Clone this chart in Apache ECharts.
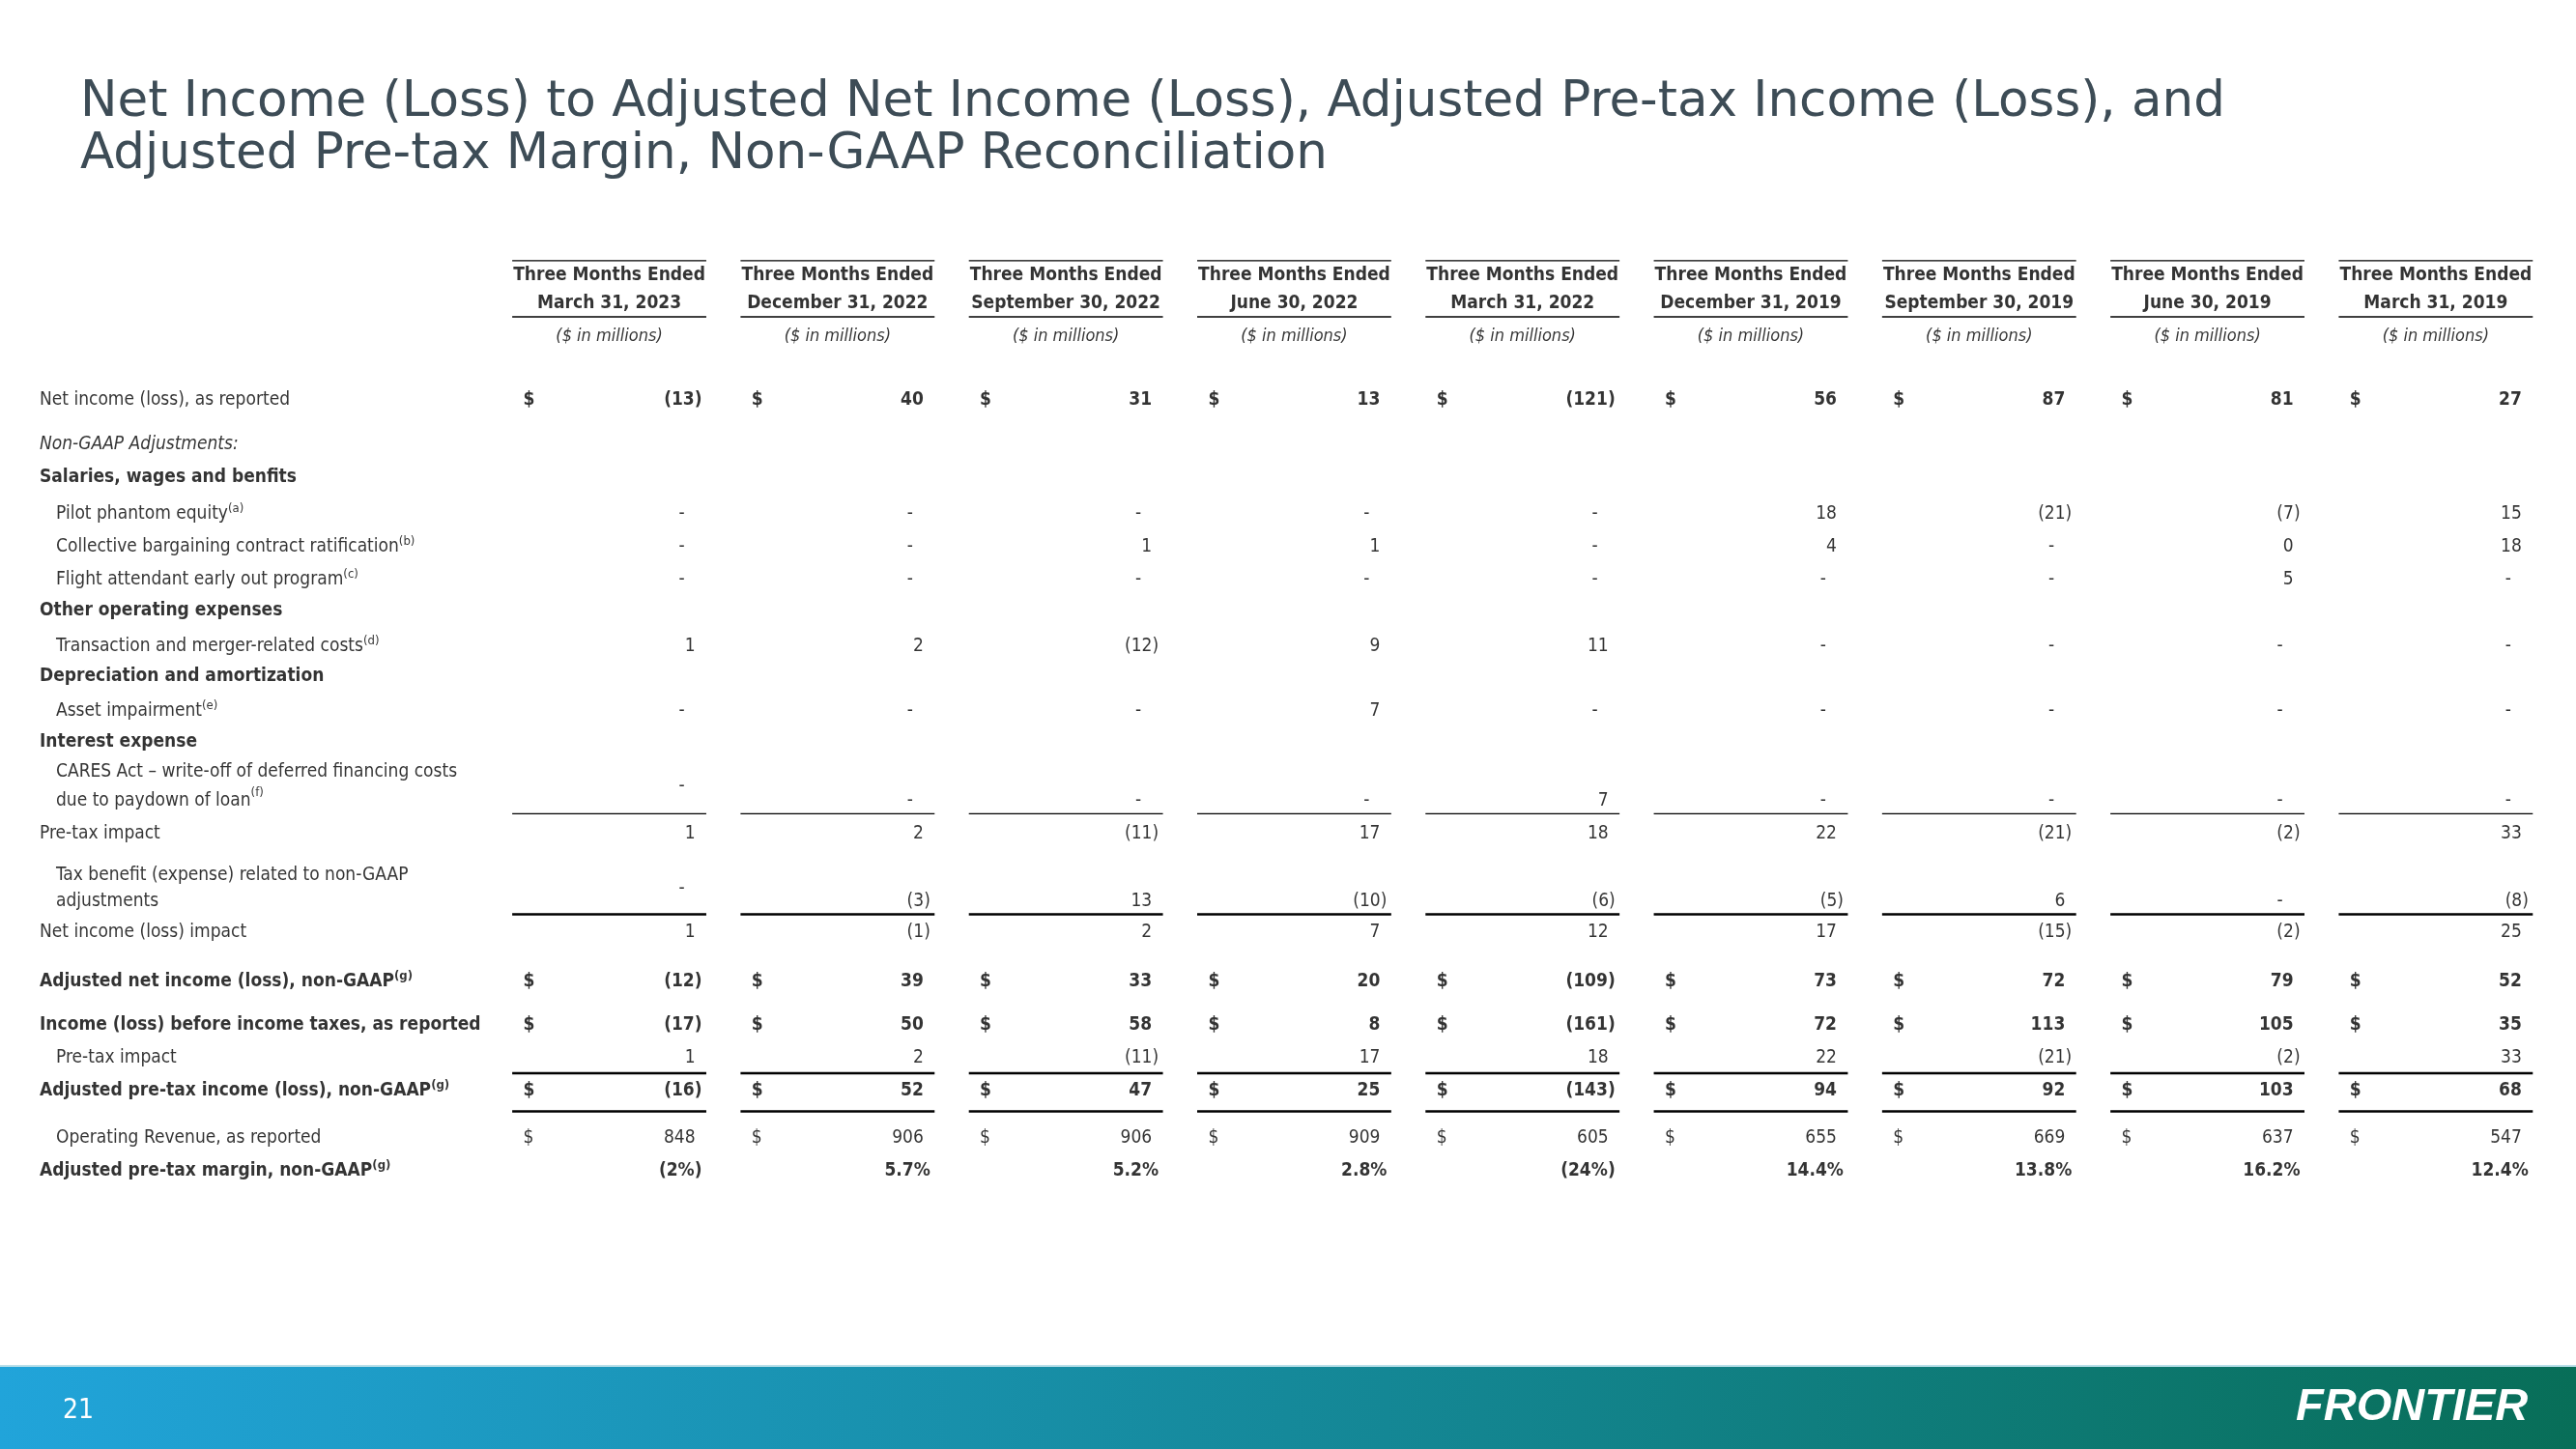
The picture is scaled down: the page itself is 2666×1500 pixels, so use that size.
<!DOCTYPE html>
<html>
<head>
<meta charset="utf-8">
<script src="https://cdn.jsdelivr.net/npm/echarts@6/dist/echarts.min.js"></script>
<style>
html, body { margin: 0; padding: 0; background: #fff; }
#main { width: 2666px; height: 1500px; }
</style>
</head>
<body>
<div id="main"></div>
<script>
// periods (columns)
var periods = ['March 31, 2023', 'December 31, 2022', 'September 30, 2022', 'June 30, 2022',
  'March 31, 2022', 'December 31, 2019', 'September 30, 2019', 'June 30, 2019', 'March 31, 2019'];

// $ in millions, null = "-"
var netIncomeReported = [-13, 40, 31, 13, -121, 56, 87, 81, 27];
var pilotPhantomEquity = [null, null, null, null, null, 18, -21, -7, 15];
var collectiveBargaining = [null, null, 1, 1, null, 4, null, 0, 18];
var flightAttendantEarlyOut = [null, null, null, null, null, null, null, 5, null];
var transactionMergerCosts = [1, 2, -12, 9, 11, null, null, null, null];
var assetImpairment = [null, null, null, 7, null, null, null, null, null];
var caresActWriteOff = [null, null, null, null, 7, null, null, null, null];
var pretaxImpact = [1, 2, -11, 17, 18, 22, -21, -2, 33];
var taxBenefit = [null, -3, 13, -10, -6, -5, 6, null, -8];
var netIncomeImpact = [1, -1, 2, 7, 12, 17, -15, -2, 25];
var adjustedNetIncome = [-12, 39, 33, 20, -109, 73, 72, 79, 52];
var incomeBeforeTaxes = [-17, 50, 58, 8, -161, 72, 113, 105, 35];
var adjustedPretaxIncome = [-16, 52, 47, 25, -143, 94, 92, 103, 68];
var operatingRevenue = [848, 906, 906, 909, 605, 655, 669, 637, 547];
var adjustedPretaxMargin = [-2, 5.7, 5.2, 2.8, -24, 14.4, 13.8, 16.2, 12.4]; // %

var FONT = "'Liberation Sans Narrow', 'DejaVu Sans Condensed', sans-serif";
var FS = 19;

// table rows: text, footnote, row slot, indent, styles
var rows = [
  { text: 'Net income (loss), as reported', y: 0, values: netIncomeReported, dollar: true, boldVal: true },
  { text: 'Non-GAAP Adjustments:', y: 1.35, italic: true },
  { text: 'Salaries, wages and benfits', y: 2.35, bold: true },
  { text: 'Pilot phantom equity', note: '(a)', y: 3.47, indent: true, values: pilotPhantomEquity },
  { text: 'Collective bargaining contract ratification', note: '(b)', y: 4.47, indent: true, values: collectiveBargaining },
  { text: 'Flight attendant early out program', note: '(c)', y: 5.47, indent: true, values: flightAttendantEarlyOut },
  { text: 'Other operating expenses', y: 6.41, bold: true },
  { text: 'Transaction and merger-related costs', note: '(d)', y: 7.5, indent: true, values: transactionMergerCosts },
  { text: 'Depreciation and amortization', y: 8.41, bold: true },
  { text: 'Asset impairment', note: '(e)', y: 9.47, indent: true, values: assetImpairment },
  { text: 'Interest expense', y: 10.41, bold: true },
  { text: 'CARES Act \u2013 write-off of deferred financing costs\ndue to paydown of loan', note: '(f)', y: 11.76, valY: 12.2, lh: 30, indent: true, values: caresActWriteOff },
  { text: 'Pre-tax impact', y: 13.2, values: pretaxImpact },
  { text: 'Tax benefit (expense) related to non-GAAP\nadjustments', y: 14.88, valY: 15.26, lh: 27, indent: true, values: taxBenefit },
  { text: 'Net income (loss) impact', y: 16.2, values: netIncomeImpact },
  { text: 'Adjusted net income (loss), non-GAAP', note: '(g)', y: 17.7, bold: true, values: adjustedNetIncome, dollar: true, boldVal: true },
  { text: 'Income (loss) before income taxes, as reported', y: 19.03, bold: true, values: incomeBeforeTaxes, dollar: true, boldVal: true },
  { text: 'Pre-tax impact', y: 20.03, indent: true, values: pretaxImpact },
  { text: 'Adjusted pre-tax income (loss), non-GAAP', note: '(g)', y: 21.03, bold: true, values: adjustedPretaxIncome, dollar: true, boldVal: true },
  { text: 'Operating Revenue, as reported', y: 22.47, indent: true, values: operatingRevenue, dollar: true },
  { text: 'Adjusted pre-tax margin, non-GAAP', note: '(g)', y: 23.47, bold: true, values: adjustedPretaxMargin, pct: true, boldVal: true }
];

// rules under cells: row slot, line width
var rules = [[-4.24, 1.4], [-2.53, 1.4], [12.6, 1.4], [15.66, 2.4], [20.5, 2.4], [21.66, 2.4]];

function fmt(v) {
  if (v == null) return '-';
  return v < 0 ? '(' + (-v) + ')' : String(v);
}
function fmtPct(v) {
  return v < 0 ? '(' + (-v) + '%)' : v.toFixed(1) + '%';
}

var Y0 = 414, UNIT = 34, YMIN = -5, YMAX = 25;
var gridTop = Y0 + YMIN * UNIT;
var gridBottom = 1500 - (Y0 + YMAX * UNIT);

var series = [];

// row labels
series.push({
  type: 'scatter', xAxisIndex: 0, yAxisIndex: 0, symbolSize: 0, silent: true,
  data: rows.map(function (r) {
    return {
      value: [0, r.y],
      label: {
        formatter: r.text + (r.note ? '{sup|' + r.note + '}' : ''),
        offset: [r.indent ? 58 : 41, 0],
        fontWeight: r.bold ? 'bold' : 'normal',
        fontStyle: r.italic ? 'italic' : 'normal',
        lineHeight: r.lh || 24
      }
    };
  }),
  label: {
    show: true, position: 'inside', align: 'left', color: '#000',
    fontFamily: FONT, fontSize: FS,
    rich: { sup: { fontSize: 13, verticalAlign: 'top', fontFamily: FONT, color: '#000' } }
  }
});

// column headers
series.push({
  type: 'scatter', xAxisIndex: 1, yAxisIndex: 1, symbolSize: 0, silent: true,
  data: periods.map(function (p, i) { return { value: [i, -3.37], name: p }; }),
  label: {
    show: true, position: 'inside', align: 'center', color: '#000',
    fontFamily: FONT, fontSize: FS, fontWeight: 'bold', lineHeight: 29,
    formatter: function (p) { return 'Three Months Ended\n' + p.name; }
  }
});
series.push({
  type: 'scatter', xAxisIndex: 1, yAxisIndex: 1, symbolSize: 0, silent: true,
  data: periods.map(function (p, i) { return [i, -1.94]; }),
  label: {
    show: true, position: 'inside', align: 'center', color: '#000',
    fontFamily: FONT, fontSize: 18, fontStyle: 'italic',
    formatter: '($ in millions)'
  }
});

// values and $ signs
rows.forEach(function (r) {
  if (!r.values) return;
  series.push({
    type: 'scatter', xAxisIndex: 1, yAxisIndex: 1, symbolSize: 0, silent: true,
    data: r.values.map(function (v, i) {
      var y = r.valY != null && !(v == null && i === 0) ? r.valY : r.y;
      var txt = r.pct ? fmtPct(v) : fmt(v);
      var off = r.pct ? 96 : (v == null ? 78 : (v < 0 ? 96 : 89));
      return { value: [i, y], label: { formatter: txt, offset: [off, 0] } };
    }),
    label: {
      show: true, position: 'inside', align: 'right', color: '#000',
      fontFamily: FONT, fontSize: FS, fontWeight: r.boldVal ? 'bold' : 'normal'
    }
  });
  if (r.dollar) {
    series.push({
      type: 'scatter', xAxisIndex: 1, yAxisIndex: 1, symbolSize: 0, silent: true,
      data: r.values.map(function (v, i) { return [i, r.y]; }),
      label: {
        show: true, position: 'inside', align: 'left', offset: [-89, 0], color: '#000',
        fontFamily: FONT, fontSize: FS, fontWeight: r.boldVal ? 'bold' : 'normal',
        formatter: '$'
      }
    });
  }
});

// cell rules
var ruleData = [];
rules.forEach(function (ru) {
  periods.forEach(function (p, i) { ruleData.push([i, ru[0], ru[1]]); });
});
series.push({
  type: 'custom', xAxisIndex: 1, yAxisIndex: 1, silent: true,
  data: ruleData,
  renderItem: function (params, api) {
    var c = api.coord([api.value(0), api.value(1)]);
    var half = api.size([1, 0])[0] * 0.425;
    return {
      type: 'line',
      shape: { x1: c[0] - half, y1: c[1], x2: c[0] + half, y2: c[1] },
      style: { stroke: '#000', lineWidth: api.value(2) }
    };
  }
});

var chart = echarts.init(document.getElementById('main'));
chart.setOption({
  animation: false,
  backgroundColor: '#fff',
  title: {
    text: 'Net Income (Loss) to Adjusted Net Income (Loss), Adjusted Pre-tax Income (Loss), and\nAdjusted Pre-tax Margin, Non-GAAP Reconciliation',
    left: 83, top: 80, padding: 0,
    textStyle: { fontFamily: 'DejaVu Sans', fontSize: 51.5, fontWeight: 'normal', color: '#3d4c56', lineHeight: 54 }
  },
  grid: [
    { left: 0, width: 512, top: gridTop, bottom: gridBottom },
    { left: 512.4, right: 27, top: gridTop, bottom: gridBottom }
  ],
  xAxis: [
    { type: 'value', gridIndex: 0, min: 0, max: 1, show: false },
    { type: 'category', gridIndex: 1, data: periods, show: false }
  ],
  yAxis: [
    { type: 'value', gridIndex: 0, min: YMIN, max: YMAX, inverse: true, show: false },
    { type: 'value', gridIndex: 1, min: YMIN, max: YMAX, inverse: true, show: false }
  ],
  graphic: [
    {
      type: 'rect', left: 0, top: 1415, silent: true,
      shape: { width: 2666, height: 85 },
      style: {
        fill: new echarts.graphic.LinearGradient(0, 0, 1, 0, [
          { offset: 0, color: '#21a4da' },
          { offset: 0.5, color: '#15899a' },
          { offset: 1, color: '#086e58' }
        ])
      }
    },
    {
      type: 'rect', left: 0, top: 1413, silent: true,
      shape: { width: 2666, height: 2 },
      style: { fill: '#b9dfe9' }
    },
    {
      type: 'text', left: 65, top: 1447, silent: true,
      style: { text: '21', fill: '#fff', fontFamily: FONT, fontSize: 28 }
    },
    {
      type: 'text', left: 2376, top: 1434, silent: true,
      style: { text: 'FRONTIER', fill: '#fff', fontFamily: 'Liberation Sans', fontSize: 47, fontWeight: 'bold', fontStyle: 'italic' }
    }
  ],
  series: series
});
</script>
</body>
</html>
